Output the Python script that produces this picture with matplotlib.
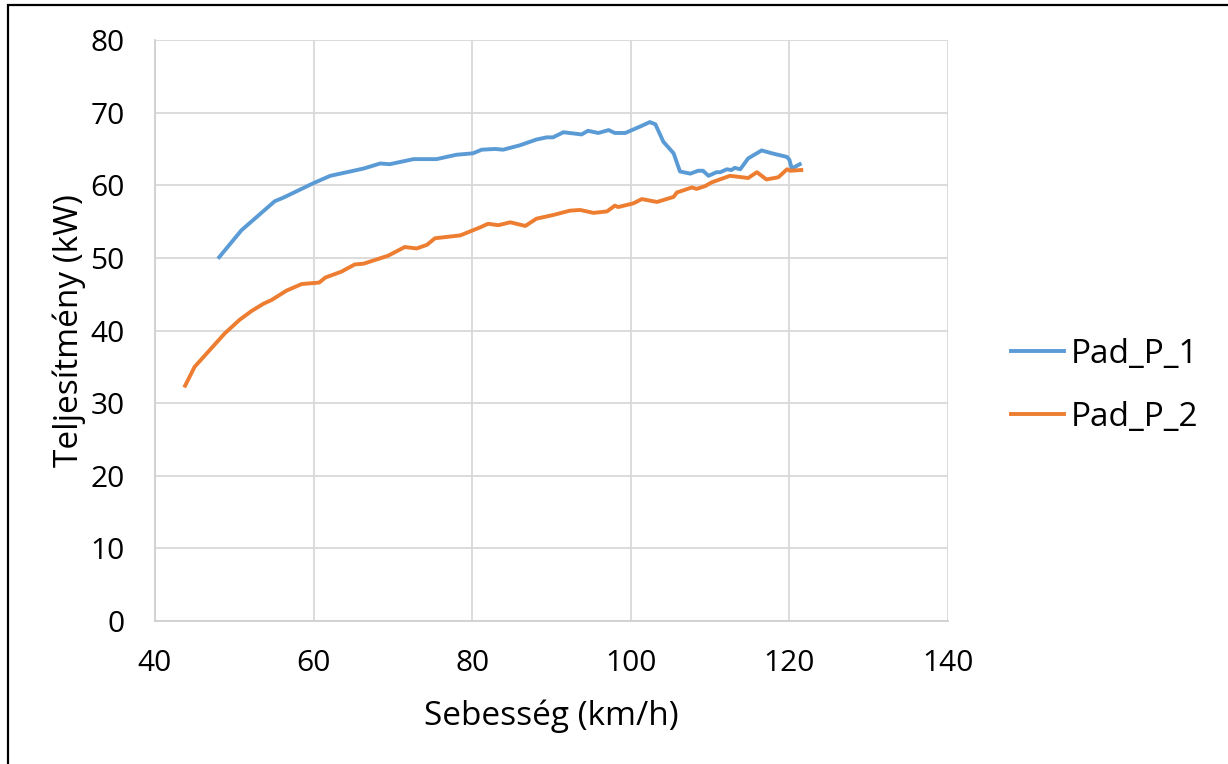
import matplotlib.pyplot as plt
from matplotlib.patches import Rectangle

# Pad_P_1: speed (km/h) vs power (kW)
speed_1 = [48.1, 50.9, 55.1, 56.2, 60.0, 62.1, 66.3, 68.4, 69.6, 72.6, 75.5,
           78.0, 80.1, 81.2, 82.9, 83.9, 86.0, 88.1, 89.4, 90.2, 91.5, 93.8,
           94.6, 95.9, 97.2, 98.0, 99.3, 101.2, 102.4, 103.1, 104.1, 105.4,
           106.2, 107.5, 108.5, 109.1, 109.8, 110.8, 111.3, 112.1, 112.7,
           113.1, 113.8, 114.8, 116.5, 117.8, 119.7, 120.0, 120.3, 121.3]
power_1 = [50.1, 53.8, 57.8, 58.3, 60.3, 61.3, 62.3, 63.0, 62.9, 63.6, 63.6,
           64.2, 64.4, 64.9, 65.0, 64.9, 65.5, 66.3, 66.6, 66.6, 67.3, 67.0,
           67.5, 67.2, 67.6, 67.2, 67.2, 68.1, 68.7, 68.4, 66.0, 64.4,
           61.9, 61.6, 62.0, 62.0, 61.3, 61.8, 61.8, 62.2, 62.1,
           62.4, 62.2, 63.7, 64.8, 64.4, 63.9, 63.5, 62.3, 62.9]

# Pad_P_2
speed_2 = [43.8, 45.0, 46.9, 48.8, 50.7, 52.2, 53.7, 54.7, 56.6, 58.5, 60.7,
           61.5, 63.5, 65.2, 66.3, 69.4, 71.5, 73.0, 74.3, 75.3, 78.5, 81.0,
           82.0, 83.3, 84.8, 86.7, 88.1, 90.2, 92.3, 93.6, 95.3, 97.0, 98.0,
           98.4, 100.3, 101.4, 103.3, 105.4, 105.8, 107.7, 108.3, 109.4,
           110.2, 112.5, 113.3, 114.8, 115.9, 117.1, 118.6, 119.7, 120.1, 121.5]
power_2 = [32.4, 35.0, 37.3, 39.6, 41.5, 42.7, 43.7, 44.2, 45.5, 46.4, 46.6,
           47.3, 48.1, 49.1, 49.2, 50.3, 51.5, 51.3, 51.8, 52.7, 53.1, 54.2,
           54.7, 54.5, 54.9, 54.4, 55.4, 55.9, 56.5, 56.6, 56.2, 56.4, 57.2,
           57.0, 57.5, 58.1, 57.7, 58.4, 59.0, 59.7, 59.5, 59.9,
           60.4, 61.3, 61.2, 61.0, 61.8, 60.8, 61.1, 62.2, 62.0, 62.1]

plt.rcParams['font.family'] = ['Open Sans', 'DejaVu Sans']

fig = plt.figure(figsize=(12.28, 7.64), dpi=100)
ax = fig.add_axes([0.1262, 0.1872, 0.6458, 0.7604])

ax.plot(speed_1, power_1, color='#5B9BD5', lw=2.8, label='Pad_P_1')
ax.plot(speed_2, power_2, color='#ED7D31', lw=2.8, label='Pad_P_2')

ax.set_xlim(40, 140)
ax.set_ylim(0, 80)
ax.set_xticks(range(40, 141, 20))
ax.set_yticks(range(0, 81, 10))
ax.grid(True, color='#d9d9d9', lw=1.3)
ax.set_axisbelow(True)
for side in ['top', 'right']:
    ax.spines[side].set_visible(False)
for side in ['left', 'bottom']:
    ax.spines[side].set_color('#d0d0d0')
    ax.spines[side].set_linewidth(1.3)
ax.tick_params(axis='x', length=0, labelsize=21.5, pad=20)
ax.tick_params(axis='y', length=0, labelsize=21.5, pad=22)

ax.set_xlabel('Sebesség (km/h)', fontsize=24, labelpad=16)
ax.set_ylabel('Teljesítmény (kW)', fontsize=24, labelpad=3)

ax.legend(loc='center left', bbox_to_anchor=(1011 / 1228, 1 - 386 / 764),
          bbox_transform=fig.transFigure, frameon=False, borderpad=0,
          borderaxespad=0, fontsize=24, handlelength=1.6,
          handletextpad=0.2, labelspacing=0.9)

# thin black frame around the chart
fig.patches.append(Rectangle((8 / 1228, -0.1), 1.2, 0.1 + 1 - 5.5 / 764,
                             transform=fig.transFigure, fill=False,
                             edgecolor='black', lw=1.6))

fig.savefig('out.png', dpi=100)
